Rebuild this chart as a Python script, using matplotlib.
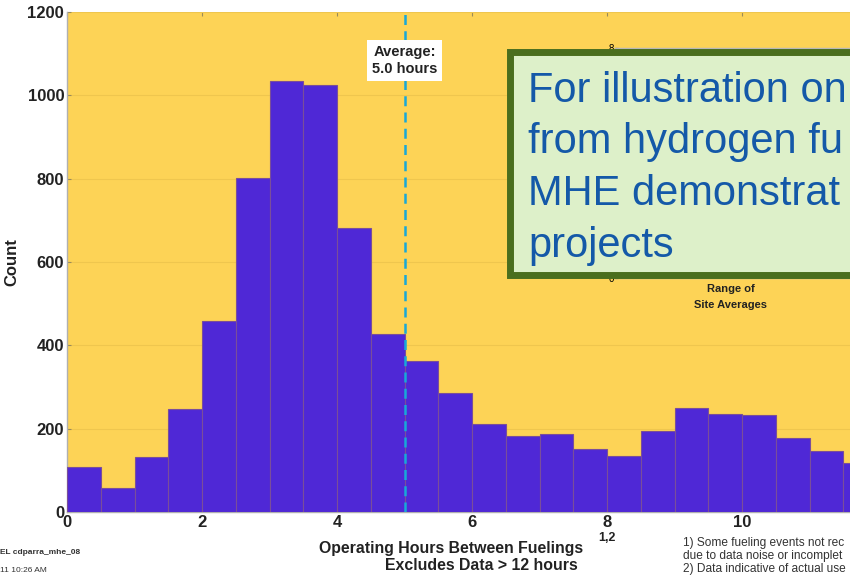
import matplotlib
matplotlib.use("Agg")
import matplotlib.pyplot as plt
from matplotlib.patches import Rectangle
import numpy as np

plt.rcParams['font.family'] = ['Liberation Sans', 'DejaVu Sans']

bin_edges = [0, 0.5, 1, 1.5, 2, 2.5, 3, 3.5, 4, 4.5, 5, 5.5, 6, 6.5, 7, 7.5,
             8, 8.5, 9, 9.5, 10, 10.5, 11, 11.5, 12]
counts = [107, 58, 132, 247, 458, 802, 1034, 1025, 682, 427, 362, 286, 211,
          182, 187, 151, 134, 194, 250, 235, 233, 178, 146, 118]
average_hours = 5.0
y_ticks = [0, 200, 400, 600, 800, 1000, 1200]
x_ticks = [0, 2, 4, 6, 8, 10]

W, H = 850, 578
fig = plt.figure(figsize=(W / 100, H / 100), dpi=100)
fig.patch.set_facecolor('white')

def fx(px):
    return px / W

def fy(py):
    return 1 - py / H

ax = fig.add_axes([fx(67), fy(512), fx(810), (512 - 12) / H])
ax.set_facecolor('#FDD356')
edges = np.array(bin_edges)
ax.bar(edges[:-1], counts, width=np.diff(edges), align='edge',
       color='#4F28D6', edgecolor='#7A4E9A', linewidth=0.8, zorder=3)
ax.axvline(average_hours, color='#18A8D8', linestyle=(0, (4, 2.5)), linewidth=1.8, zorder=4)

ax.set_xlim(0, 12)
ax.set_ylim(0, 1200)
ax.set_xticks(x_ticks)
ax.set_yticks(y_ticks)
ax.yaxis.grid(True, color='#EFC64E', linewidth=0.8, zorder=1)
ax.set_axisbelow(True)
ax.tick_params(direction='in', length=3, color='#9a8a5a', top=True, right=False,
               labelsize=12, pad=2)
for lab in ax.get_xticklabels() + ax.get_yticklabels():
    lab.set_fontweight('bold')
    lab.set_color('#222222')
for s in ['top', 'right']:
    ax.spines[s].set_visible(False)
for s in ['left', 'bottom']:
    ax.spines[s].set_color('#b0b0b0')
    ax.spines[s].set_linewidth(1.0)

ax.set_ylabel('Count', fontsize=12, fontweight='bold', color='#222222', labelpad=6)

# x label
fig.text(fx(451), fy(549), 'Operating Hours Between Fuelings', ha='center', va='center',
         fontsize=11.4, fontweight='bold', color='#222222')
fig.text(fx(481), fy(566), 'Excludes Data > 12 hours', ha='center', va='center',
         fontsize=11.4, fontweight='bold', color='#222222')
fig.text(fx(607), fy(538), '1,2', ha='center', va='center', fontsize=9,
         fontweight='bold', color='#222222')

# Average label
ax.text(average_hours, 1084, 'Average:\n5.0 hours', ha='center', va='center',
        fontsize=10.5, fontweight='bold', color='#222222', linespacing=1.3, zorder=5,
        bbox=dict(boxstyle='square,pad=0.35', facecolor='white', edgecolor='none'))

# footnotes
fig.text(fx(0), fy(552), 'EL cdparra_mhe_08', ha='left', va='center', fontsize=6,
         fontweight='bold', color='#333333')
fig.text(fx(0), fy(570), '11 10:26 AM', ha='left', va='center', fontsize=6,
         color='#333333')
fig.text(fx(683), fy(543), '1) Some fueling events not rec', ha='left', va='center',
         fontsize=8.6, color='#333333')
fig.text(fx(683), fy(556), 'due to data noise or incomplet', ha='left', va='center',
         fontsize=8.6, color='#333333')
fig.text(fx(683), fy(569), '2) Data indicative of actual use', ha='left', va='center',
         fontsize=8.6, color='#333333')

# inset (mostly hidden behind the note box)
iax = fig.add_axes([fx(615), fy(278), fx(300), (278 - 48) / H])
iax.set_facecolor('none')
iax.set_ylim(0, 8)
iax.set_yticks([0, 8])
iax.set_xticks([])
iax.tick_params(direction='in', length=2, labelsize=7, pad=1)
for s in iax.spines.values():
    s.set_color('#b8b8b8')
    s.set_linewidth(1.0)
fig.text(fx(731), fy(289), 'Range of', ha='center', va='center', fontsize=8,
         fontweight='bold', color='#222222')
fig.text(fx(731), fy(305), 'Site Averages', ha='center', va='center', fontsize=8,
         fontweight='bold', color='#222222')

# note box
box = Rectangle((fx(510), fy(275)), fx(420), (275 - 52) / H, transform=fig.transFigure,
                facecolor='#DDF0C9', edgecolor='#4A6E1E', linewidth=5, zorder=10)
fig.add_artist(box)
note_lines = ['For illustration on', 'from hydrogen fu',
              'MHE demonstrat', 'projects']
for i, line in enumerate(note_lines):
    fig.text(fx(528), fy(102 + i * 51.5), line, ha='left', va='baseline', fontsize=30,
             color='#1459A8', zorder=11)

fig.savefig('out.png', dpi=100, facecolor='white')
